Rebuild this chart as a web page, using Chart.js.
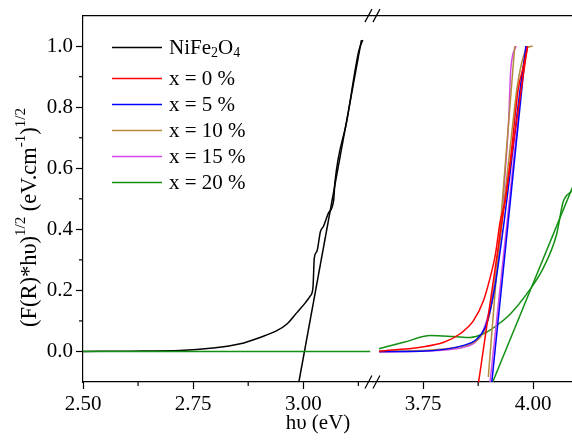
<!DOCTYPE html>
<html>
<head>
<meta charset="utf-8">
<script src="https://cdn.jsdelivr.net/npm/chart.js@4.4.1/dist/chart.umd.min.js"></script>
<style>
  html, body { margin: 0; padding: 0; background: #fff; }
</style>
</head>
<body>
<canvas id="tauc" width="572" height="442"></canvas>
<script>
// broken x axis: two ranges side by side
const xLeftRange = [2.50, 3.157];
const xRightRange = [3.635, 4.088];
const yRange = [-0.1, 1.1];
const xLeftTicks = [2.50, 2.625, 2.75, 2.875, 3.00, 3.125];
const xRightTicks = [3.75, 3.875, 4.00];
const yTicks = [0.0, 0.1, 0.2, 0.3, 0.4, 0.5, 0.6, 0.7, 0.8, 0.9, 1.0];

const seriesNames = ['NiFe2O4', 'x = 0 %', 'x = 5 %', 'x = 10 %', 'x = 15 %', 'x = 20 %'];
const seriesColors = ['#000000', '#ff0000', '#0000ff', '#b38b3a', '#d24ae6', '#139013'];

// NiFe2O4 (left part)
const niX = [2.50, 2.607, 2.720, 2.795, 2.857, 2.902, 2.940, 2.963, 2.986, 3.005, 3.016, 3.022, 3.025, 3.031, 3.039, 3.046, 3.057, 3.069, 3.072, 3.099, 3.126, 3.135];
const niY = [0.000, 0.001, 0.003, 0.011, 0.025, 0.046, 0.068, 0.090, 0.128, 0.160, 0.182, 0.209, 0.306, 0.328, 0.393, 0.410, 0.453, 0.496, 0.556, 0.756, 0.984, 1.020];
const niFitX = [2.990, 3.132];
const niFitY = [-0.1, 1.02];
const baseX = [2.50, 3.152];
const baseY = [0, 0];

// doped samples (right part)
const redX = [3.650, 3.744, 3.797, 3.834, 3.864, 3.887, 3.902, 3.914, 3.925, 3.936, 3.950, 3.966, 3.978, 3.987];
const redY = [0.001, 0.014, 0.030, 0.058, 0.100, 0.166, 0.241, 0.317, 0.426, 0.490, 0.650, 0.860, 0.935, 0.995];
const redFitX = [3.876, 3.987];
const redFitY = [-0.1, 1.0];

const blueX = [3.650, 3.744, 3.842, 3.872, 3.891, 3.902, 3.914, 3.925, 3.934, 3.948, 3.961, 3.972, 3.984];
const blueY = [0.000, 0.001, 0.020, 0.041, 0.079, 0.133, 0.220, 0.330, 0.426, 0.590, 0.750, 0.880, 1.000];
const blueFitX = [3.906, 3.984];
const blueFitY = [-0.1, 1.0];

const brownX = [3.650, 3.744, 3.827, 3.857, 3.880, 3.895, 3.907, 3.917, 3.926, 3.934, 3.950, 3.965, 3.987, 3.999];
const brownY = [0.000, 0.003, 0.014, 0.025, 0.046, 0.090, 0.166, 0.274, 0.380, 0.490, 0.700, 0.880, 0.995, 1.000];
const brownFitX = [3.898, 3.958];
const brownFitY = [-0.084, 1.0];

const pinkX = [3.650, 3.782, 3.842, 3.868, 3.883, 3.894, 3.905, 3.917, 3.928, 3.937, 3.944, 3.949, 3.961];
const pinkY = [-0.002, 0.003, 0.014, 0.030, 0.058, 0.100, 0.166, 0.274, 0.430, 0.600, 0.750, 0.924, 1.000];
const pinkFitX = [3.902, 3.983];
const pinkFitY = [-0.1, 1.0];

const greenX = [3.650, 3.706, 3.767, 3.819, 3.857, 3.887, 3.917, 3.948, 3.985, 4.023, 4.053, 4.068, 4.087];
const greenY = [0.009, 0.030, 0.052, 0.049, 0.046, 0.058, 0.085, 0.123, 0.188, 0.274, 0.383, 0.490, 0.525];
const greenFitX = [3.908, 4.100];
const greenFitY = [-0.1, 0.576];

const FONT = 'Liberation Serif';

function pts(xs, ys) {
  return xs.map((x, i) => ({ x: x, y: ys[i] }));
}

function line(xs, ys, color, axis, smooth, order) {
  return {
    data: pts(xs, ys),
    xAxisID: axis,
    borderColor: color,
    borderWidth: 1.5,
    pointRadius: 0,
    fill: false,
    cubicInterpolationMode: smooth ? 'monotone' : 'default',
    tension: 0,
    order: order
  };
}

function isMajor(v, step) {
  const r = v / step;
  return Math.abs(r - Math.round(r)) < 1e-6;
}

// text with sub/superscripts
function drawRich(ctx, parts, x, y, align, size) {
  size = size || 21;
  const big = size + 'px "' + FONT + '"';
  const small = Math.round(size * 0.66) + 'px "' + FONT + '"';
  let total = 0;
  parts.forEach(p => {
    ctx.font = p.m ? small : big;
    p.w = ctx.measureText(p.t).width;
    total += p.w;
  });
  let cx = align === 'center' ? x - total / 2 : x;
  ctx.textAlign = 'left';
  ctx.textBaseline = 'middle';
  parts.forEach(p => {
    ctx.font = p.m ? small : big;
    const dy = p.m === 'sup' ? -size * 0.38 : (p.m === 'sub' ? size * 0.24 : 0);
    ctx.fillText(p.t, cx, y + dy);
    cx += p.w;
  });
}

function formulaParts(text) {
  return text.split(/(\d)/).filter(s => s).map(s => /\d/.test(s) ? { t: s, m: 'sub' } : { t: s });
}

const decor = {
  id: 'decor',
  afterDraw(chart) {
    const ctx = chart.ctx;
    const a = chart.chartArea;
    const xL = chart.scales.xL;
    ctx.save();
    ctx.strokeStyle = '#000';
    ctx.lineWidth = 1.2;

    // top frame line
    ctx.beginPath();
    ctx.moveTo(a.left, a.top);
    ctx.lineTo(a.right, a.top);
    ctx.stroke();

    // break marks
    const bx = xL.right;
    [a.top, a.bottom].forEach(by => {
      [-4, 4].forEach(off => {
        ctx.beginPath();
        ctx.moveTo(bx + off - 3.5, by + 6.5);
        ctx.lineTo(bx + off + 3.5, by - 6.5);
        ctx.stroke();
      });
    });

    // minor ticks
    ['xL', 'xR'].forEach(id => {
      const s = chart.scales[id];
      s.ticks.forEach(t => {
        if (isMajor(t.value, 0.25)) return;
        const px = s.getPixelForValue(t.value);
        ctx.beginPath();
        ctx.moveTo(px, a.bottom);
        ctx.lineTo(px, a.bottom + 4);
        ctx.stroke();
      });
    });
    const ys = chart.scales.y;
    ys.ticks.forEach(t => {
      if (isMajor(t.value, 0.2)) return;
      const py = ys.getPixelForValue(t.value);
      ctx.beginPath();
      ctx.moveTo(a.left, py);
      ctx.lineTo(a.left - 4, py);
      ctx.stroke();
    });

    // legend
    ctx.fillStyle = '#000';
    seriesNames.forEach((name, i) => {
      const ry = a.top + 32 + (i === 0 ? 0 : 31 + (i - 1) * 26);
      ctx.strokeStyle = seriesColors[i];
      ctx.lineWidth = 1.5;
      ctx.beginPath();
      ctx.moveTo(a.left + 29, ry);
      ctx.lineTo(a.left + 79, ry);
      ctx.stroke();
      drawRich(ctx, i === 0 ? formulaParts(name) : [{ t: name }], a.left + 86, ry + 1, 'left', 21);
    });

    // axis titles
    drawRich(ctx, [{ t: 'hυ (eV)' }], a.left + 235, 423, 'center', 21);
    ctx.translate(30, a.top + 202);
    ctx.rotate(-Math.PI / 2);
    drawRich(ctx, [
      { t: '(F(R)*hυ)' }, { t: '1/2', m: 'sup' },
      { t: ' (eV.cm' }, { t: '-1', m: 'sup' }, { t: ')' }, { t: '1/2', m: 'sup' }
    ], 0, 0, 'center', 22.5);
    ctx.restore();
  }
};

function xAxis(range, ticks) {
  return {
    type: 'linear',
    position: 'bottom',
    stack: 'x',
    stackWeight: range[1] - range[0],
    min: range[0],
    max: range[1],
    afterBuildTicks: s => { s.ticks = ticks.map(v => ({ value: v })); },
    afterFit: s => { s.height = 60; },
    ticks: {
      font: { family: FONT, size: 21 },
      color: '#000',
      padding: 3,
      maxRotation: 0,
      autoSkip: false,
      callback: v => isMajor(v, 0.25) ? v.toFixed(2) : ''
    },
    grid: {
      drawOnChartArea: false,
      drawTicks: true,
      tickLength: 7,
      tickWidth: 1.2,
      tickColor: c => (c.tick && isMajor(c.tick.value, 0.25)) ? '#000' : 'rgba(0,0,0,0)'
    },
    border: { display: true, color: '#000', width: 1.2 }
  };
}

new Chart(document.getElementById('tauc'), {
  type: 'line',
  data: {
    datasets: [
      line(niX, niY, seriesColors[0], 'xL', true, 5),
      line(niFitX, niFitY, seriesColors[0], 'xL', false, 5),
      line(baseX, baseY, seriesColors[5], 'xL', false, 1),
      line(greenX, greenY, seriesColors[5], 'xR', true, 4),
      line(greenFitX, greenFitY, seriesColors[5], 'xR', false, 4),
      line(pinkX, pinkY, seriesColors[4], 'xR', true, 3),
      line(pinkFitX, pinkFitY, seriesColors[4], 'xR', false, 3),
      line(brownX, brownY, seriesColors[3], 'xR', true, 2),
      line(brownFitX, brownFitY, seriesColors[3], 'xR', false, 2),
      line(blueX, blueY, seriesColors[2], 'xR', true, 1),
      line(blueFitX, blueFitY, seriesColors[2], 'xR', false, 1),
      line(redX, redY, seriesColors[1], 'xR', true, 0),
      line(redFitX, redFitY, seriesColors[1], 'xR', false, 0)
    ]
  },
  options: {
    responsive: false,
    animation: false,
    layout: { padding: { top: 13, right: 0, bottom: 0, left: 0 } },
    plugins: { legend: { display: false }, tooltip: { enabled: false } },
    scales: {
      xL: xAxis(xLeftRange, xLeftTicks),
      xR: xAxis(xRightRange, xRightTicks),
      y: {
        type: 'linear',
        min: yRange[0],
        max: yRange[1],
        afterBuildTicks: s => { s.ticks = yTicks.map(v => ({ value: v })); },
        afterFit: s => { s.width = 83; },
        ticks: {
          font: { family: FONT, size: 21 },
          color: '#000',
          padding: 3,
          callback: v => isMajor(v, 0.2) ? v.toFixed(1) : ''
        },
        grid: {
          drawOnChartArea: false,
          drawTicks: true,
          tickLength: 7,
          tickWidth: 1.2,
          tickColor: c => (c.tick && isMajor(c.tick.value, 0.2)) ? '#000' : 'rgba(0,0,0,0)'
        },
        border: { display: true, color: '#000', width: 1.2 }
      }
    }
  },
  plugins: [decor]
});
</script>
</body>
</html>
